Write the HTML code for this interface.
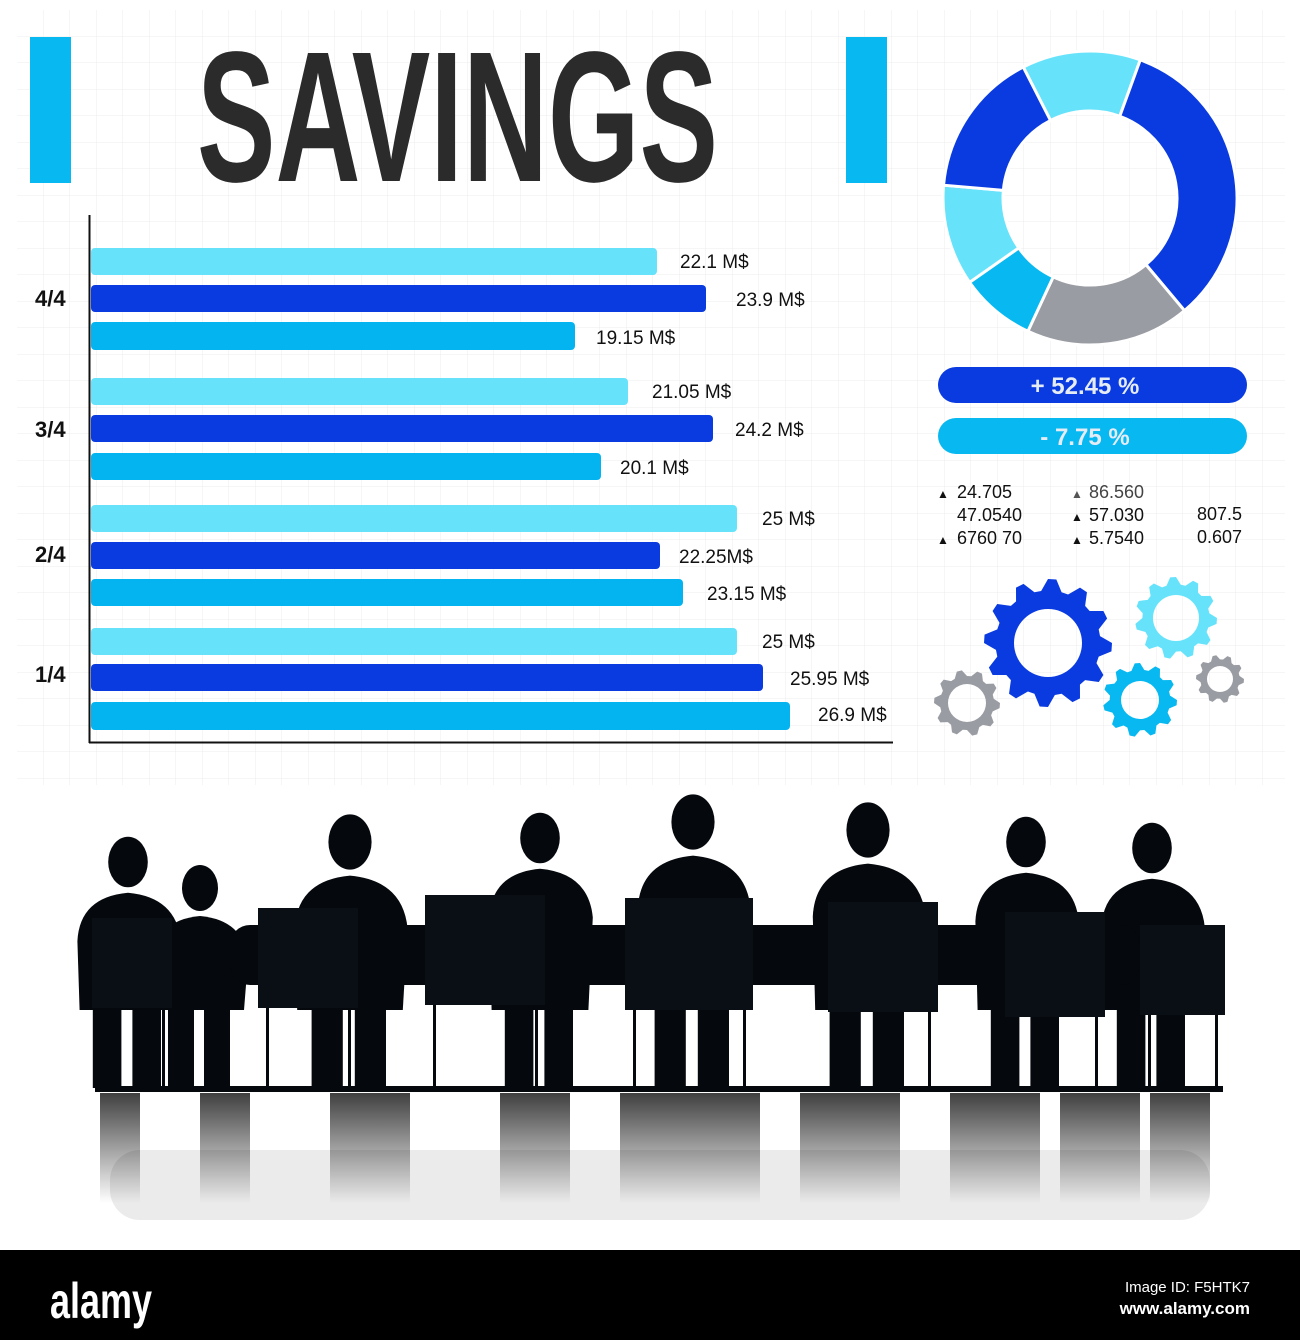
<!DOCTYPE html>
<html><head><meta charset="utf-8"><style>
html,body{margin:0;padding:0;background:#fff}
svg{display:block}
</style></head><body>
<svg width="1300" height="1340" viewBox="0 0 1300 1340" xmlns="http://www.w3.org/2000/svg" font-family="Liberation Sans, sans-serif">
<defs>
<pattern id="g" width="26.5" height="26.5" patternUnits="userSpaceOnUse" x="17" y="10">
<path d="M26.5 0V26.5M0 26.5H26.5" stroke="#ececec" stroke-width="1" fill="none"/>
</pattern>
<linearGradient id="rf" x1="0" y1="0" x2="0" y2="1">
<stop offset="0" stop-color="#000" stop-opacity="0.75"/>
<stop offset="1" stop-color="#000" stop-opacity="0"/>
</linearGradient>
</defs>
<rect width="1300" height="1340" fill="#fff"/>
<rect x="17" y="10" width="1268" height="775" fill="url(#g)"/>

<rect x="30" y="37" width="41" height="146" fill="#08b8f0"/>
<rect x="846" y="37" width="41" height="146" fill="#08b8f0"/>
<text x="197" y="181" font-size="186" font-weight="bold" fill="#2b2b2b" textLength="521" lengthAdjust="spacingAndGlyphs">SAVINGS</text>

<line x1="89.5" y1="215" x2="89.5" y2="743" stroke="#111" stroke-width="2"/>
<line x1="89" y1="742.5" x2="893" y2="742.5" stroke="#111" stroke-width="2"/>

<g font-size="19" fill="#111">
<rect x="91" y="248" width="566" height="27" rx="4" fill="#66e3fb"/>
<rect x="91" y="285" width="615" height="27" rx="4" fill="#0a3be0"/>
<rect x="91" y="322" width="484" height="28" rx="4" fill="#04b4f0"/>
<text x="680" y="268">22.1 M$</text>
<text x="736" y="306">23.9 M$</text>
<text x="596" y="344">19.15 M$</text>

<rect x="91" y="378" width="537" height="27" rx="4" fill="#66e3fb"/>
<rect x="91" y="415" width="622" height="27" rx="4" fill="#0a3be0"/>
<rect x="91" y="453" width="510" height="27" rx="4" fill="#04b4f0"/>
<text x="652" y="398">21.05 M$</text>
<text x="735" y="436">24.2 M$</text>
<text x="620" y="474">20.1 M$</text>

<rect x="91" y="505" width="646" height="27" rx="4" fill="#66e3fb"/>
<rect x="91" y="542" width="569" height="27" rx="4" fill="#0a3be0"/>
<rect x="91" y="579" width="592" height="27" rx="4" fill="#04b4f0"/>
<text x="762" y="525">25 M$</text>
<text x="679" y="563">22.25M$</text>
<text x="707" y="600">23.15 M$</text>

<rect x="91" y="628" width="646" height="27" rx="4" fill="#66e3fb"/>
<rect x="91" y="664" width="672" height="27" rx="4" fill="#0a3be0"/>
<rect x="91" y="702" width="699" height="28" rx="4" fill="#04b4f0"/>
<text x="762" y="648">25 M$</text>
<text x="790" y="685">25.95 M$</text>
<text x="818" y="721">26.9 M$</text>
</g>
<g font-size="22" fill="#111" font-weight="bold">
<text x="35" y="306">4/4</text>
<text x="35" y="437">3/4</text>
<text x="35" y="562">2/4</text>
<text x="35" y="682">1/4</text>
</g>

<g id="donut"></g>

<rect x="938" y="367" width="309" height="36" rx="18" fill="#0a3be0"/>
<text x="1085" y="394" font-size="24" font-weight="bold" fill="#e6ecf5" text-anchor="middle">+ 52.45 %</text>
<rect x="938" y="418" width="309" height="36" rx="18" fill="#08b8f0"/>
<text x="1085" y="445" font-size="24" font-weight="bold" fill="#e6ecf5" text-anchor="middle">- 7.75 %</text>

<g font-size="18" fill="#111">
<text x="937" y="498" font-size="12">▲</text><text x="957" y="498">24.705</text>
<text x="957" y="521">47.0540</text>
<text x="937" y="544" font-size="12">▲</text><text x="957" y="544">6760 70</text>
<text x="1071" y="498" font-size="12" fill="#555">▲</text><text x="1089" y="498" fill="#444">86.560</text>
<text x="1071" y="521" font-size="12">▲</text><text x="1089" y="521">57.030</text>
<text x="1071" y="544" font-size="12">▲</text><text x="1089" y="544">5.7540</text>
<text x="1197" y="520">807.5</text>
<text x="1197" y="543">0.607</text>
</g>

<g id="gears"></g>
<g id="people" fill="#05080c"></g>
<g id="refl"></g>

<rect x="0" y="1250" width="1300" height="90" fill="#000"/>
<text x="50" y="1318" font-size="50" font-weight="bold" fill="#fff" textLength="102" lengthAdjust="spacingAndGlyphs">alamy</text>
<text x="1250" y="1292" font-size="15" fill="#fff" text-anchor="end">Image ID: F5HTK7</text>
<text x="1250" y="1314" font-size="17" font-weight="bold" fill="#fff" text-anchor="end">www.alamy.com</text>
</svg>
<script>
var NS="http://www.w3.org/2000/svg";
function el(p,t,a){var e=document.createElementNS(NS,t);for(var k in a)e.setAttribute(k,a[k]);p.appendChild(e);return e;}
var d=document.getElementById('donut'),cx=1090,cy=198,R=147,r=87;
var segs=[[-27,20,'#66e3fb'],[20,140,'#0a3be0'],[140,205,'#9a9ca3'],[205,235,'#08b8f0'],[235,275,'#66e3fb'],[275,333,'#0a3be0']];
function pt(a,rad){a=(a-90)*Math.PI/180;return [cx+rad*Math.cos(a),cy+rad*Math.sin(a)];}
segs.forEach(function(s){var a=pt(s[0],R),b=pt(s[1],R),c=pt(s[1],r),e=pt(s[0],r),L=(s[1]-s[0])>180?1:0;
el(d,'path',{d:'M'+a+'A'+R+','+R+' 0 '+L+' 1 '+b+'L'+c+'A'+r+','+r+' 0 '+L+' 0 '+e+'Z',fill:s[2],stroke:'#fff','stroke-width':3});});
var g=document.getElementById('gears');
function gear(x,y,ro,ri,n,col){var p='',N=n*4;for(var i=0;i<N;i++){var a=i/N*2*Math.PI,rr=(i%4<2)?ro:ro*0.82;p+=(i?'L':'M')+(x+rr*Math.cos(a))+','+(y+rr*Math.sin(a));}
el(g,'path',{d:p+'Z M'+(x+ri)+','+y+'A'+ri+','+ri+' 0 1 0 '+(x-ri)+','+y+'A'+ri+','+ri+' 0 1 0 '+(x+ri)+','+y+'Z',fill:col,'fill-rule':'evenodd'});}
gear(1048,643,64,34,12,'#0a3be0');
gear(1176,618,41,23,11,'#66e3fb');
gear(1140,700,37,19,11,'#08b8f0');
gear(967,703,33,19,10,'#9a9ca3');
gear(1220,679,24,13,10,'#9a9ca3');
var pp=document.getElementById('people');
var heads=[[128,862,22],[200,888,20],[350,842,24],[540,838,22],[693,822,24],[868,830,24],[1026,842,22],[1152,848,22]];
heads.forEach(function(h){var x=h[0],y=h[1],s=h[2];
el(pp,'ellipse',{cx:x,cy:y,rx:s*0.9,ry:s*1.15});
el(pp,'path',{d:'M'+(x-s*2.3)+','+(y+s*3.6)+'Q'+(x-s*2.2)+','+(y+s*1.6)+' '+x+','+(y+s*1.4)+'Q'+(x+s*2.2)+','+(y+s*1.6)+' '+(x+s*2.4)+','+(y+s*3.6)+'L'+(x+s*2.2)+',1010L'+(x-s*2.2)+',1010Z'});
el(pp,'rect',{x:x-s*1.6,y:1000,width:s*1.3,height:88});
el(pp,'rect',{x:x+s*0.2,y:1000,width:s*1.3,height:88});
});
el(pp,'rect',{x:230,y:925,width:910,height:60,rx:20});
[[92,918,80,90],[258,908,100,100],[425,895,120,110],[625,898,128,112],[828,902,110,110],[1005,912,100,105],[1140,925,85,90]].forEach(function(c){
el(pp,'rect',{x:c[0],y:c[1],width:c[2],height:c[3],fill:'#0a0f16'});
el(pp,'rect',{x:c[0]+8,y:c[1]+c[3],width:3,height:1090-c[1]-c[3]});
el(pp,'rect',{x:c[0]+c[2]-10,y:c[1]+c[3],width:3,height:1090-c[1]-c[3]});});
el(pp,'rect',{x:95,y:1086,width:1128,height:6});
var rf=document.getElementById('refl');
var xs=[[100,40],[200,50],[330,80],[500,70],[620,140],[800,100],[950,90],[1060,80],[1150,60]];
xs.forEach(function(q){el(rf,'rect',{x:q[0],y:1093,width:q[1],height:110,fill:'url(#rf)'});});
el(rf,'rect',{x:110,y:1150,width:1100,height:70,fill:'#000',opacity:0.08,rx:30});
</script>
</body></html>
